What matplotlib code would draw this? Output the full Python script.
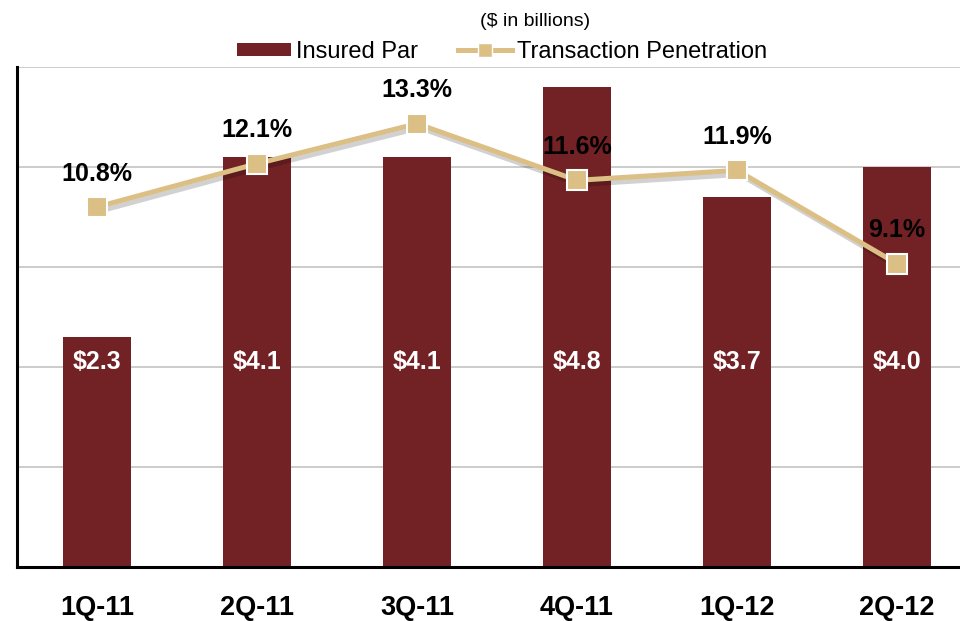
import matplotlib.pyplot as plt
import matplotlib.patheffects as pe
from matplotlib.lines import Line2D
from matplotlib.patches import Patch

plt.rcParams['font.family'] = ['Liberation Sans', 'DejaVu Sans']

quarters = ['1Q-11', '2Q-11', '3Q-11', '4Q-11', '1Q-12', '2Q-12']
insured_par = [2.3, 4.1, 4.1, 4.8, 3.7, 4.0]
penetration = [10.8, 12.1, 13.3, 11.6, 11.9, 9.1]

bar_color = '#722124'
line_color = '#DCBF85'

fig = plt.figure(figsize=(9.6, 6.21), dpi=100)
# axes runs a little past the right edge, like the cropped original
ax = fig.add_axes([17 / 960, 54 / 621, 960 / 960, 500 / 621])
x = list(range(len(quarters)))

ax.bar(x, insured_par, width=0.425, color=bar_color, zorder=2)
ax.set_xlim(-0.5, 5.5)
ax.set_ylim(0, 5)
ax.set_yticks([1, 2, 3, 4, 5])
ax.yaxis.grid(True, color='#C4C4C4', lw=1.2, zorder=0)
ax.set_axisbelow(True)
ax.tick_params(axis='y', length=0, labelleft=False)
ax.tick_params(axis='x', length=0, pad=20)
ax.set_xticks(x)
ax.set_xticklabels(quarters, fontsize=19.5, fontweight='bold')
for s in ['top', 'right']:
    ax.spines[s].set_visible(False)
for s in ['left', 'bottom']:
    ax.spines[s].set_linewidth(2.2)
    ax.spines[s].set_color('black')

for xi, v in zip(x, insured_par):
    ax.text(xi, 2.05, f'${v:.1f}', color='white', fontsize=18, fontweight='bold',
            ha='center', va='center', zorder=5)

ax2 = ax.twinx()
ax2.set_ylim(0, 15)
ax2.axis('off')
# line with a soft shadow, markers drawn on top without shadow
ax2.plot(x, penetration, color=line_color, lw=3.6, zorder=4,
         path_effects=[pe.SimpleLineShadow(offset=(2, -3), alpha=0.18, rho=0.5),
                       pe.Normal()])
ax2.plot(x, penetration, linestyle='none', marker='s', markersize=14,
         markerfacecolor=line_color, markeredgecolor='white', markeredgewidth=1.5,
         zorder=5)
for xi, v in zip(x, penetration):
    ax2.annotate(f'{v:.1f}%', (xi, v), xytext=(0, 24), textcoords='offset points',
                 ha='center', va='center', fontsize=18, fontweight='bold',
                 color='black', zorder=6)

fig.text(535 / 960, 1 - 22 / 621, '($ in billions)', ha='center', va='center',
         fontsize=14)

handles = [Patch(facecolor=bar_color, edgecolor='none'),
           Line2D([0], [0], color=line_color, lw=3.6, marker='s', markersize=10,
                  markerfacecolor=line_color, markeredgecolor='white')]
fig.legend(handles, ['Insured Par', 'Transaction Penetration'], ncol=2,
           loc='center', bbox_to_anchor=(502 / 960, 1 - 52 / 621), frameon=False,
           fontsize=17, handlelength=2.3, handletextpad=0.2, columnspacing=1.7,
           handleheight=0.5)

fig.savefig('out.png', dpi=100)
